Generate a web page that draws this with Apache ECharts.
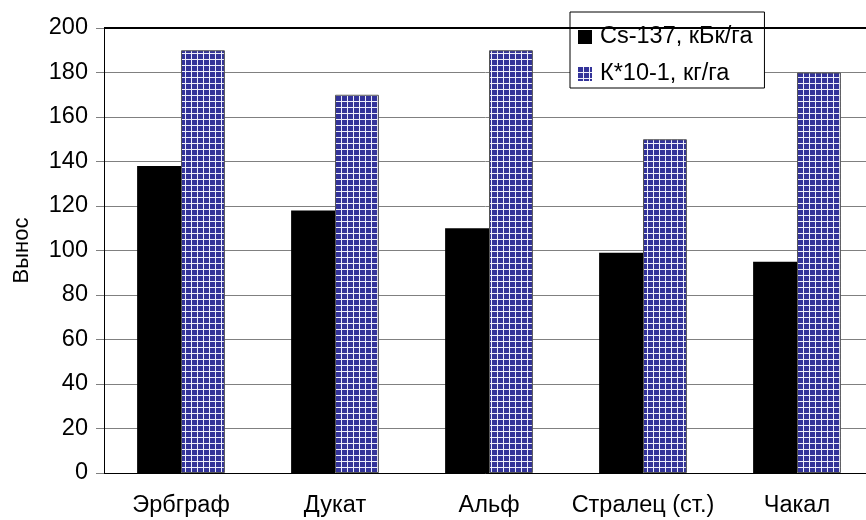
<!DOCTYPE html>
<html>
<head>
<meta charset="utf-8">
<script src="https://cdn.jsdelivr.net/npm/echarts@6/dist/echarts.min.js"></script>
<style>html,body{margin:0;padding:0;background:#fff}#c{width:866px;height:520px}</style>
</head>
<body>
<div id="c"></div>
<script>
const categories = ['Эрбграф', 'Дукат', 'Альф', 'Стралец (ст.)', 'Чакал'];
const cs137 = [138, 118, 110, 99, 95];
const kValues = [190, 170, 190, 150, 180];
const yTicks = { min: 0, max: 200, interval: 20 };
const seriesNames = ['Cs-137, кБк/га', 'К*10-1, кг/га'];

const pc = document.createElement('canvas');
pc.width = 6; pc.height = 6;
const g = pc.getContext('2d');
g.fillStyle = '#eeeefa';
g.fillRect(0, 0, 6, 6);
g.fillStyle = '#333399';
g.fillRect(0, 0, 5, 5);

const chart = echarts.init(document.getElementById('c'), null, { renderer: 'canvas' });
const font = 'Liberation Sans, Arial, sans-serif';
chart.setOption({
  animation: false,
  textStyle: { fontFamily: font },
  grid: { left: 104, right: -8, top: 28, bottom: 47, containLabel: false, outerBoundsMode: 'none' },
  legend: {
    orient: 'vertical', left: 570, top: 12,
    padding: [13, 12, 2, 8], itemGap: 13,
    itemWidth: 14, itemHeight: 14, icon: 'rect', itemStyle: { borderWidth: 0 },
    backgroundColor: '#fff', borderColor: '#000', borderWidth: 1,
    textStyle: { fontSize: 23.5, color: '#000', fontFamily: font, padding: [0, 0, 0, 3] },
    data: seriesNames
  },
  xAxis: {
    type: 'category', data: categories,
    axisLine: { lineStyle: { color: '#000', width: 1 } },
    axisTick: { show: false },
    axisLabel: { fontSize: 23.5, color: '#000', margin: 21, interval: 0 }
  },
  yAxis: {
    type: 'value', min: yTicks.min, max: yTicks.max, interval: yTicks.interval,
    name: 'Вынос', nameLocation: 'middle', nameGap: 71,
    nameTextStyle: { fontSize: 22, color: '#000' },
    axisLine: { show: true, lineStyle: { color: '#000', width: 1 } },
    axisTick: { show: true, inside: false, length: 8, lineStyle: { color: '#808080' } },
    axisLabel: { fontSize: 23.5, color: '#000', margin: 16 },
    splitLine: { show: true, lineStyle: { color: '#808080', width: 1 } }
  },
  series: [
    {
      name: seriesNames[0], type: 'bar', data: cs137,
      barGap: '0%', barCategoryGap: '43%',
      itemStyle: { color: '#000' },
      markLine: {
        silent: true, symbol: 'none', label: { show: false },
        lineStyle: { color: '#000', width: 2, type: 'solid' },
        data: [{ yAxis: yTicks.max }]
      }
    },
    {
      name: seriesNames[1], type: 'bar', data: kValues,
      itemStyle: { color: { image: pc, repeat: 'repeat' }, borderColor: '#555', borderWidth: 1 }
    }
  ]
});
</script>
</body>
</html>
